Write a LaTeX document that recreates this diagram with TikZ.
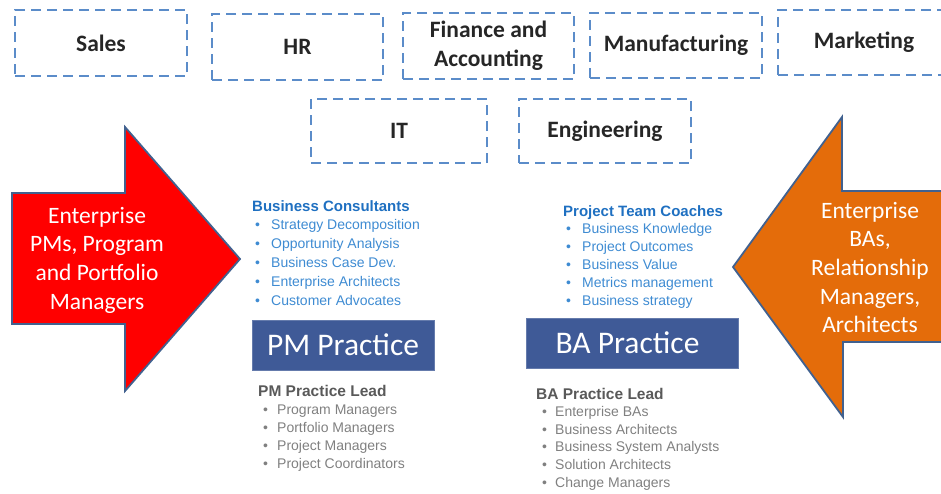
\documentclass[tikz,border=0pt]{standalone}
\usepackage{fontspec}
\setmainfont{Carlito}
\newfontfamily\arialf{Liberation Sans}
\definecolor{dashblue}{HTML}{5B8CC9}
\definecolor{darktxt}{HTML}{262626}
\definecolor{arrowred}{HTML}{FF0000}
\definecolor{arroworange}{HTML}{E46C0A}
\definecolor{arrowedge}{HTML}{41618F}
\definecolor{practice}{HTML}{3F5A97}
\definecolor{listblue}{HTML}{1F70C1}
\definecolor{listbluelt}{HTML}{3E8BD2}
\definecolor{graytitle}{HTML}{595959}
\definecolor{grayitem}{HTML}{808080}
\newcommand{\bitem}[2]{\hspace*{#1}\makebox[\dimexpr19pt-#1\relax][l]{•}#2}
\tikzset{
  dept/.style={draw=dashblue, line width=2pt, dash pattern=on 10pt off 6pt,
    minimum height=66pt, inner sep=0pt, align=center, text=darktxt,
    font=\fontsize{23.5}{29}\selectfont\bfseries},
  practicebox/.style={fill=practice, draw=practice!80!white, line width=1pt,
    text=white, font=\fontsize{31.5}{36}\selectfont, inner sep=0pt,
    minimum height=50pt},
  arrowtext/.style={text=white, align=center, font=\fontsize{23.5}{28.7}\selectfont},
  arrowshape/.style={draw=arrowedge, line width=1.8pt, line join=miter},
  listnode/.style={anchor=base west, inner sep=0pt}
}
\begin{document}
\begin{tikzpicture}[x=1pt,y=-1pt]
\useasboundingbox (0,0) rectangle (941,493);
% departments
\node[dept, minimum width=172pt] (sales) at (101,43) {Sales};
\node[dept, minimum width=171pt] (hr) at (297.5,47) {HR};
\node[dept, minimum width=171pt] (fin) at (488.5,46) {Finance and\\Accounting};
\node[dept, minimum width=172pt, minimum height=65pt] (manu) at (676,45.5) {Manufacturing};
\node[dept, minimum width=172pt, minimum height=65pt] (mkt) at (864,42.5) {Marketing};
\node[dept, minimum width=176pt, minimum height=64pt] (it) at (399,131) {IT};
\node[dept, minimum width=172pt, minimum height=64pt] (eng) at (605,131) {Engineering};
% arrows
\draw[arrowshape, fill=arrowred] (12,193) -- (125,193) -- (125,127) -- (240,259)
  -- (125,391) -- (125,324) -- (12,324) -- cycle;
\node[arrowtext] (pmtext) at (97,260) {Enterprise\\PMs, Program\\and Portfolio\\Managers};
\draw[arrowshape, fill=arroworange] (950,191) -- (842,191) -- (842,117) -- (733,267)
  -- (843,417) -- (843,342) -- (950,342) -- cycle;
\node[arrowtext] (batext) at (870,267.5) {Enterprise\\BAs,\\Relationship\\Managers,\\Architects};
% practice boxes
\node[practicebox, minimum width=182pt] (pm) at (343,345) {PM Practice};
\node[practicebox, minimum width=212pt] (ba) at (632,343) {\hspace*{-9pt}BA Practice};
% lists
\node[listnode] (bc) at (252,211) {\arialf\fontsize{14}{18.8}\selectfont
  \begin{tabular}[t]{@{}l@{}}
  \textcolor{listblue}{\fontsize{15}{18.8}\selectfont\bfseries Business Consultants}\\
  \textcolor{listbluelt}{\bitem{3pt}{Strategy Decomposition}}\\
  \textcolor{listbluelt}{\bitem{3pt}{Opportunity Analysis}}\\
  \textcolor{listbluelt}{\bitem{3pt}{Business Case Dev.}}\\
  \textcolor{listbluelt}{\bitem{3pt}{Enterprise Architects}}\\
  \textcolor{listbluelt}{\bitem{3pt}{Customer Advocates}}
  \end{tabular}};
\node[listnode] (ptc) at (563,216) {\arialf\fontsize{14}{17.9}\selectfont
  \begin{tabular}[t]{@{}l@{}}
  \textcolor{listblue}{\fontsize{15}{17.9}\selectfont\bfseries Project Team Coaches}\\
  \textcolor{listbluelt}{\bitem{3pt}{Business Knowledge}}\\
  \textcolor{listbluelt}{\bitem{3pt}{Project Outcomes}}\\
  \textcolor{listbluelt}{\bitem{3pt}{Business Value}}\\
  \textcolor{listbluelt}{\bitem{3pt}{Metrics management}}\\
  \textcolor{listbluelt}{\bitem{3pt}{Business strategy}}
  \end{tabular}};
\node[listnode] (pml) at (258,396) {\arialf\fontsize{14}{18}\selectfont
  \begin{tabular}[t]{@{}l@{}}
  \textcolor{graytitle}{\fontsize{15.5}{18}\selectfont\bfseries PM Practice Lead}\\
  \textcolor{grayitem}{\bitem{5pt}{Program Managers}}\\
  \textcolor{grayitem}{\bitem{5pt}{Portfolio Managers}}\\
  \textcolor{grayitem}{\bitem{5pt}{Project Managers}}\\
  \textcolor{grayitem}{\bitem{5pt}{Project Coordinators}}
  \end{tabular}};
\node[listnode] (bal) at (536,399) {\arialf\fontsize{14}{17.6}\selectfont
  \begin{tabular}[t]{@{}l@{}}
  \textcolor{graytitle}{\fontsize{15.5}{17.6}\selectfont\bfseries BA Practice Lead}\\
  \textcolor{grayitem}{\bitem{6pt}{Enterprise BAs}}\\
  \textcolor{grayitem}{\bitem{6pt}{Business Architects}}\\
  \textcolor{grayitem}{\bitem{6pt}{Business System Analysts}}\\
  \textcolor{grayitem}{\bitem{6pt}{Solution Architects}}\\
  \textcolor{grayitem}{\bitem{6pt}{Change Managers}}
  \end{tabular}};
\end{tikzpicture}
\end{document}
